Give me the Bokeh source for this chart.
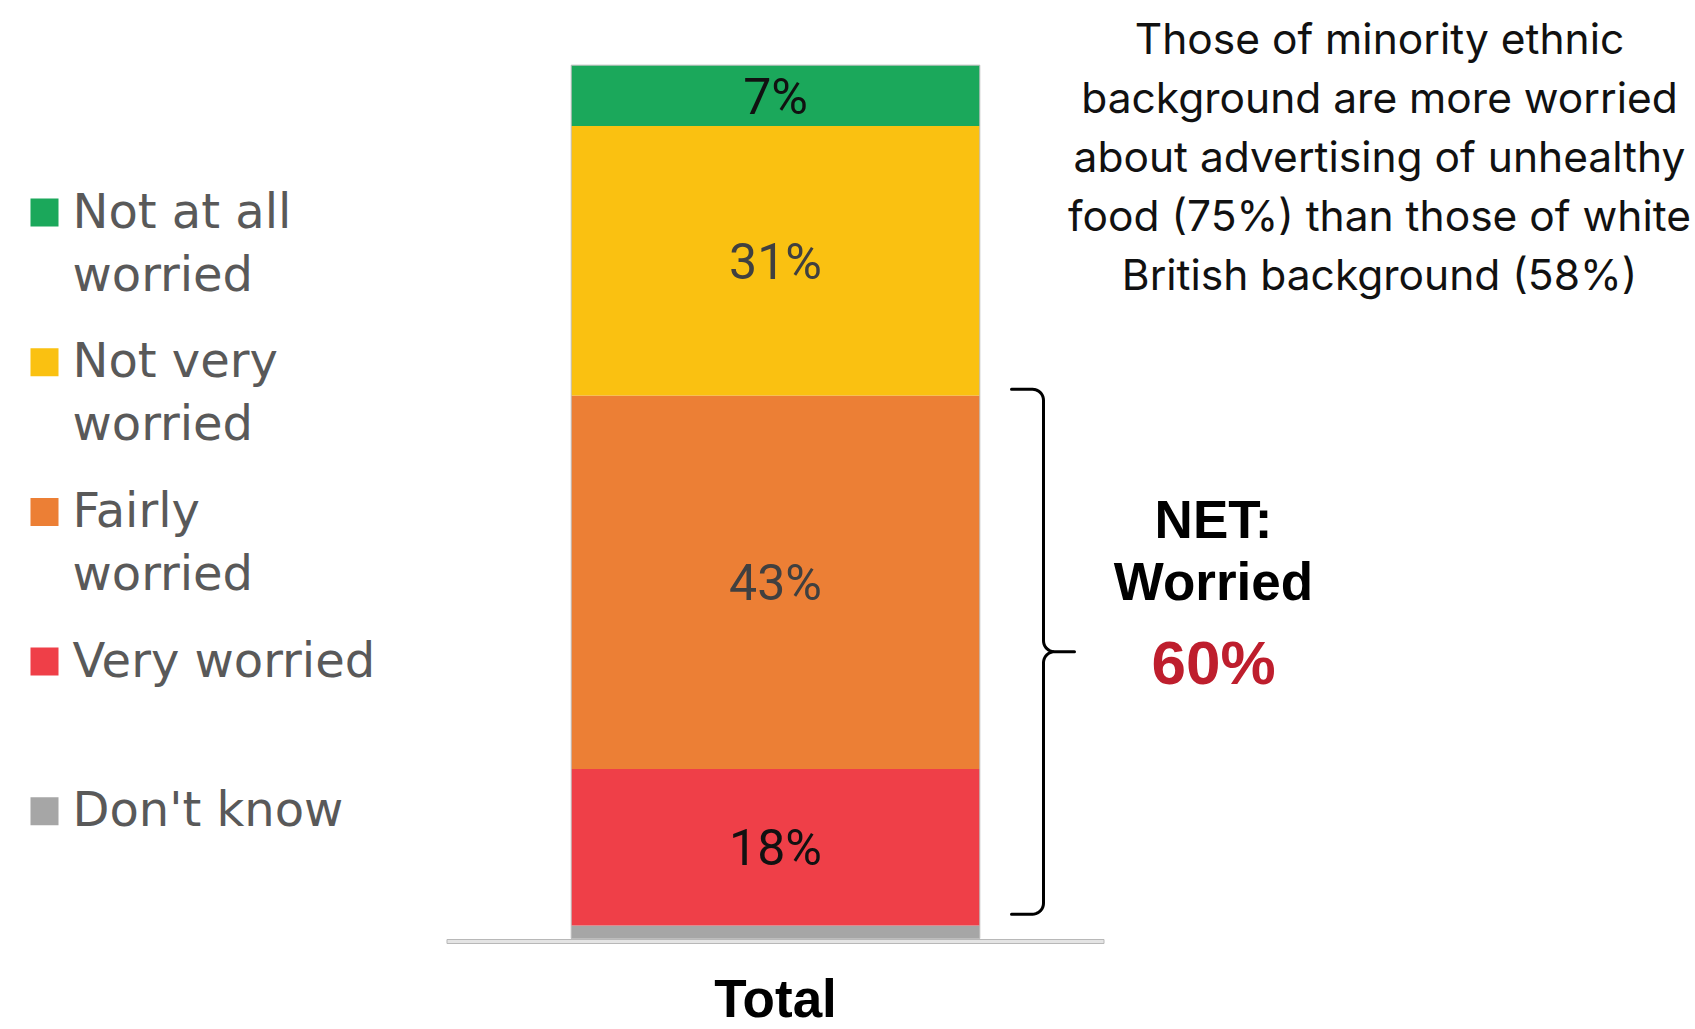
import math
from bokeh.plotting import figure
from bokeh.models import Range1d, ColumnDataSource
from bokeh.core.properties import value
from bokeh.embed import file_html
from bokeh.resources import INLINE

# ---------------- data ----------------
category = "Total"
segments = ["Don't know", "Very worried", "Fairly worried", "Not very worried", "Not at all worried"]
values = [1.5, 18, 43, 31, 7]
bar_labels = ["", "18%", "43%", "31%", "7%"]
seg_colors = ["#A6A6A6", "#EF3F48", "#EC7F35", "#FAC111", "#1BA85B"]
label_colors = ["#111111", "#111111", "#404040", "#404040", "#111111"]

legend_labels = [["Not at all", "worried"], ["Not very", "worried"], ["Fairly", "worried"], ["Very worried"], ["Don't know"]]
legend_colors = ["#1BA85B", "#FAC111", "#EC7F35", "#EF3F48", "#A6A6A6"]

net_title = ["NET:", "Worried"]
net_value = "60%"
note_lines = [
    "Those of minority ethnic",
    "background are more worried",
    "about advertising of unhealthy",
    "food (75%) than those of white",
    "British background (58%)",
]

# ---------------- layout ----------------
W, H = 1690, 1029
PX_PER_X = 408.6      # bar width in px (one x unit)
BAR_CX = 775.0        # bar centre (px from left of canvas)
PX_PER_PCT = 8.69     # px per percentage point
BASE_PY = 938.0       # y of 0% (px from top of canvas)
TXT_FIX = -19         # compensation of the text baseline placement (px)

X0 = -BAR_CX / PX_PER_X
X1 = (W - BAR_CX) / PX_PER_X
Y0 = -(H - BASE_PY) / PX_PER_PCT
Y1 = BASE_PY / PX_PER_PCT


def dx(px):
    return X0 + px / PX_PER_X


def dy(py):
    return Y1 - py / PX_PER_PCT


p = figure(width=W, height=H, x_range=Range1d(X0, X1), y_range=Range1d(Y0, Y1),
           output_backend="svg", toolbar_location=None, min_border=0,
           x_axis_location=None, y_axis_location=None)
p.grid.visible = False
p.outline_line_color = None
p.background_fill_color = "white"
p.border_fill_color = "white"

# stacked bar
bottoms, tops, mids = [], [], []
acc = 0.0
for v in values:
    bottoms.append(acc)
    tops.append(acc + v)
    mids.append(acc + v / 2)
    acc += v
src = ColumnDataSource(dict(x=[0] * len(values), bottom=bottoms, top=tops, mid=mids,
                            color=seg_colors, label=bar_labels, lcolor=label_colors))
p.vbar(x="x", width=1, bottom="bottom", top="top", fill_color="color", line_color=None, source=src)
# thin outline of the whole bar
p.quad(left=[-0.5], right=[0.5], bottom=[0], top=[acc], fill_color=None,
       line_color="#BDBDBD", line_width=1)

p.text(x="x", y="mid", text="label", source=src, text_align="center", text_baseline="alphabetic",
       y_offset=20 + TXT_FIX, text_font=value("Roboto"), text_font_size="50px", text_color="lcolor")

# base line (axis)
p.quad(left=[-0.804], right=[0.804], top=[dy(BASE_PY + 1)], bottom=[dy(BASE_PY + 5)],
       fill_color="#E4E4E4", line_color="#B8B8B8", line_width=1)

# category label
p.text(x=[0], y=[dy(1017)], text=[category], text_align="center", text_baseline="alphabetic",
       y_offset=TXT_FIX, text_font=value("Liberation Sans"), text_font_style="bold",
       text_font_size="53px", text_color="#000000")

# legend
lx_sq, lx_txt = 44, 72
for i, (lines, col) in enumerate(zip(legend_labels, legend_colors)):
    base = 229 + 149.7 * i
    p.scatter(x=[dx(lx_sq)], y=[dy(base - 17)], marker="square", size=28,
              fill_color=col, line_color=None)
    for j, t in enumerate(lines):
        p.text(x=[dx(lx_txt)], y=[dy(base + 63 * j)], text=[t], text_align="left",
               text_baseline="alphabetic", y_offset=TXT_FIX, text_font=value("DejaVu Sans"),
               text_font_size="48px", text_color="#595959")

# brace over the "worried" segments
worried_bottom = values[0]
worried_top = values[0] + values[1] + values[2]
yt = BASE_PY - (worried_top + 0.7) * PX_PER_PCT
yb = BASE_PY - (worried_bottom + 1.3) * PX_PER_PCT
ym = (yt + yb) / 2
xl, xv, xt = 1011, 1043, 1074
r = 11


def arc(cx, cy, rad, a0, a1, n=10):
    pts = []
    for k in range(n + 1):
        a = math.radians(a0 + (a1 - a0) * k / n)
        pts.append((cx + rad * math.cos(a), cy + rad * math.sin(a)))
    return pts


path = [(xl, yt)]
path += arc(xv - r, yt + r, r, -90, 0)
path += arc(xv + r, ym - r, r, 180, 90)
path += [(xt, ym), (xv + r, ym)]
path += arc(xv + r, ym + r, r, -90, -180)
path += arc(xv - r, yb - r, r, 0, 90)
path += [(xl, yb)]
p.line(x=[dx(a) for a, b in path], y=[dy(b) for a, b in path], line_color="#000000",
       line_width=3, line_join="round", line_cap="round")

# NET annotation
net_cx = 1213
for t, by in zip(net_title, [538, 600]):
    p.text(x=[dx(net_cx)], y=[dy(by)], text=[t], text_align="center", text_baseline="alphabetic",
           y_offset=TXT_FIX, text_font=value("Liberation Sans"), text_font_style="bold",
           text_font_size="53px", text_color="#000000")
p.text(x=[dx(net_cx)], y=[dy(681)], text=[net_value], text_align="center", text_baseline="alphabetic",
       y_offset=TXT_FIX, text_font=value("Liberation Sans"), text_font_style="bold",
       text_font_size="62px", text_color="#BE1E2D")

# note text
note_cx = 1379
for k, t in enumerate(note_lines):
    p.text(x=[dx(note_cx)], y=[dy(57 + 59 * k)], text=[t], text_align="center",
           text_baseline="alphabetic", y_offset=TXT_FIX, text_font=value("Inter"),
           text_font_size="42.5px", text_color="#111111")

open("out.html", "w").write(file_html(p, INLINE))
